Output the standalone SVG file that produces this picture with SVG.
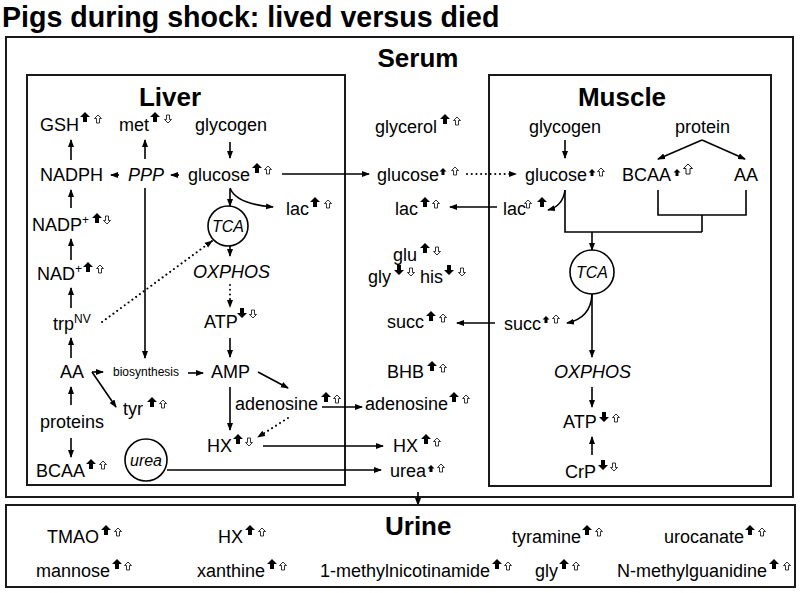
<svg xmlns="http://www.w3.org/2000/svg" xmlns:xlink="http://www.w3.org/1999/xlink" width="800" height="593" viewBox="0 0 800 593">
<style>
text{font-family:"Liberation Sans",Arial,sans-serif;fill:#000}
.t{font-size:18px}
.i{font-size:18px;font-style:italic}
.h{font-size:26px;font-weight:bold}
.s{font-size:12px}
.box{fill:none;stroke:#1a1a1a;stroke-width:2}
.c{fill:none;stroke:#000;stroke-width:1.6;marker-end:url(#ah)}
.n{fill:none;stroke:#000;stroke-width:1.6}
.d{fill:none;stroke:#000;stroke-width:2;stroke-dasharray:0.1 4.6;stroke-linecap:round;marker-end:url(#ah)}
.circ{fill:#fff;stroke:#000;stroke-width:1.6}
</style>
<defs>
<marker id="ah" markerUnits="userSpaceOnUse" markerWidth="8" markerHeight="7" refX="7" refY="3.5" orient="auto"><path d="M0,0.5 L8,3.5 L0,6.5 z" fill="#000"/></marker>
<path id="fu" d="M0,-10 L5,-5 L2,-5 L2,0 L-2,0 L-2,-5 L-5,-5 Z" fill="#000"/>
<path id="fus" d="M0,-7 L3.5,-3.5 L1.5,-3.5 L1.5,0 L-1.5,0 L-1.5,-3.5 L-3.5,-3.5 Z" fill="#000"/>
<path id="fd" d="M0,0 L5,-5 L2,-5 L2,-10 L-2,-10 L-2,-5 L-5,-5 Z" fill="#000"/>
<path id="ou" d="M0,-8 L3.5,-4.5 L1.5,-4.5 L1.5,0 L-1.5,0 L-1.5,-4.5 L-3.5,-4.5 Z" fill="#fff" stroke="#000" stroke-width="0.8"/>
<path id="oul" d="M0,-10 L4.5,-5.5 L2,-5.5 L2,0 L-2,0 L-2,-5.5 L-4.5,-5.5 Z" fill="#fff" stroke="#000" stroke-width="0.9"/>
<path id="od" d="M0,0 L3.5,-3.5 L1.5,-3.5 L1.5,-8 L-1.5,-8 L-1.5,-3.5 L-3.5,-3.5 Z" fill="#fff" stroke="#000" stroke-width="0.8"/>
</defs>
<rect width="800" height="593" fill="#fff"/>
<text x="2" y="27" style="font-size:28.6px;font-weight:bold">Pigs during shock: lived versus died</text>

<g id="serum">
<rect class="box" x="6" y="37" width="787" height="460"/>
<text class="h" x="418" y="67" text-anchor="middle">Serum</text>
<text class="t" x="375" y="133">glycerol</text><use href="#fu" x="445" y="124"/><use href="#ou" x="457" y="125"/>
<text class="t" x="377" y="181">glucose</text><use href="#fus" x="443" y="175"/><use href="#ou" x="455" y="175"/>
<text class="t" x="395" y="215">lac</text><use href="#fu" x="425" y="207"/><use href="#ou" x="436" y="208"/>
<text class="t" x="393" y="261">glu</text><use href="#fu" x="425" y="253"/><use href="#od" x="437" y="255"/>
<text class="t" x="368" y="283">gly</text><use href="#fd" x="399" y="275"/><use href="#od" x="411" y="276"/>
<text class="t" x="420" y="283">his</text><use href="#fd" x="449" y="275"/><use href="#od" x="462" y="276"/>
<text class="t" x="387" y="328">succ</text><use href="#fu" x="431" y="321"/><use href="#ou" x="443" y="322"/>
<text class="t" x="387" y="378">BHB</text><use href="#fu" x="432" y="371"/><use href="#ou" x="443" y="372"/>
<text class="t" x="365" y="410">adenosine</text><use href="#fu" x="454" y="402"/><use href="#ou" x="466" y="403"/>
<text class="t" x="393" y="452">HX</text><use href="#fu" x="426" y="444"/><use href="#ou" x="437" y="446"/>
<text class="t" x="390" y="477">urea</text><use href="#fus" x="431" y="472"/><use href="#ou" x="441" y="472"/>
</g>

<g id="liver">
<rect class="box" x="27" y="75" width="318" height="410"/>
<text class="h" x="170" y="106" text-anchor="middle">Liver</text>
<text class="t" x="40" y="131">GSH</text><use href="#fu" x="85" y="122"/><use href="#ou" x="98" y="123"/>
<text class="t" x="119" y="131">met</text><use href="#fu" x="155" y="122"/><use href="#od" x="168" y="123"/>
<text class="t" x="195" y="131">glycogen</text>
<text class="t" x="40" y="181">NADPH</text>
<text class="i" x="128" y="181">PPP</text>
<text class="t" x="188" y="181">glucose</text><use href="#fu" x="257" y="173"/><use href="#ou" x="268" y="174"/>
<text class="t" x="286" y="215">lac</text><use href="#fu" x="315" y="207"/><use href="#ou" x="328" y="208"/>
<text class="t" x="32" y="231">NADP<tspan style="font-size:12px" dy="-7">+</tspan></text><use href="#fu" x="97" y="223"/><use href="#od" x="107" y="224"/>
<text class="t" x="37" y="280">NAD<tspan style="font-size:12px" dy="-7">+</tspan></text><use href="#fu" x="88" y="272"/><use href="#ou" x="100" y="273"/>
<text class="t" x="53" y="330">trp<tspan style="font-size:12px" dy="-7">NV</tspan></text>
<text class="i" x="193" y="278">OXPHOS</text>
<text class="t" x="204" y="328">ATP</text><use href="#fd" x="242" y="318"/><use href="#od" x="253" y="318"/>
<text class="t" x="60" y="378">AA</text>
<text class="s" x="113" y="376">biosynthesis</text>
<text class="t" x="211" y="378">AMP</text>
<text class="t" x="123" y="415">tyr</text><use href="#fu" x="152" y="407"/><use href="#ou" x="163" y="408"/>
<text class="t" x="40" y="428">proteins</text>
<text class="t" x="235" y="410">adenosine</text><use href="#fu" x="326" y="402"/><use href="#ou" x="337" y="403"/>
<text class="t" x="207" y="452">HX</text><use href="#fu" x="238" y="444"/><use href="#od" x="249" y="446"/>
<text class="t" x="36" y="477">BCAA</text><use href="#fu" x="91" y="469"/><use href="#ou" x="103" y="469"/>
</g>

<g id="muscle">
<rect class="box" x="489" y="75" width="282" height="411"/>
<text class="h" x="622" y="106" text-anchor="middle">Muscle</text>
<text class="t" x="529" y="133">glycogen</text>
<text class="t" x="675" y="133">protein</text>
<text class="t" x="525" y="181">glucose</text><use href="#fus" x="592" y="176"/><use href="#ou" x="601" y="176"/>
<text class="t" x="622" y="181">BCAA</text><use href="#fus" x="677" y="176"/><use href="#oul" x="688" y="174"/>
<text class="t" x="734" y="181">AA</text>
<text class="t" x="503" y="215">lac</text><use href="#ou" x="528" y="208"/><use href="#fu" x="542" y="207"/>
<text class="t" x="504" y="330">succ</text><use href="#fus" x="546" y="323"/><use href="#ou" x="556" y="323"/>
<text class="i" x="554" y="378">OXPHOS</text>
<text class="t" x="563" y="428">ATP</text><use href="#fd" x="604" y="422"/><use href="#ou" x="616" y="422"/>
<text class="t" x="565" y="478">CrP</text><use href="#fd" x="603" y="470"/><use href="#od" x="614" y="471"/>
</g>

<g id="connectors">
<line class="c" x1="71" y1="160" x2="71" y2="140"/>
<line class="c" x1="145" y1="159" x2="145" y2="140"/>
<line class="c" x1="230" y1="142" x2="230" y2="158"/>
<line class="c" x1="179" y1="175" x2="171" y2="175"/>
<line class="c" x1="119" y1="175" x2="111" y2="175"/>
<line class="c" x1="71" y1="208" x2="71" y2="190"/>
<line class="c" x1="71" y1="260" x2="71" y2="239"/>
<line class="c" x1="71" y1="308" x2="71" y2="288"/>
<line class="c" x1="71" y1="358" x2="71" y2="338"/>
<line class="c" x1="71" y1="405" x2="71" y2="387"/>
<line class="c" x1="71" y1="438" x2="71" y2="457"/>
<line class="c" x1="145" y1="188" x2="145" y2="358"/>
<line class="c" x1="92" y1="372" x2="103" y2="372"/>
<line class="c" x1="92" y1="372" x2="116" y2="407"/>
<line class="c" x1="188" y1="373" x2="203" y2="373"/>
<line class="c" x1="230" y1="189" x2="230" y2="206"/>
<path class="c" d="M230,188 Q236,204 273,207"/>
<line class="c" x1="230" y1="246" x2="230" y2="256"/>
<line class="d" x1="230" y1="285" x2="230" y2="307"/>
<line class="c" x1="230" y1="338" x2="230" y2="357"/>
<line class="c" x1="230" y1="387" x2="230" y2="430"/>
<line class="c" x1="258" y1="372" x2="288" y2="388"/>
<line class="d" x1="288" y1="418" x2="258" y2="437"/>
<line class="d" x1="102" y1="322" x2="212" y2="241"/>
<line class="c" x1="282" y1="174" x2="369" y2="174"/>
<line class="c" x1="322" y1="407" x2="362" y2="407"/>
<line class="c" x1="263" y1="446" x2="383" y2="446"/>
<line class="c" x1="167" y1="470" x2="381" y2="470"/>
<line class="d" x1="467" y1="174" x2="516" y2="174"/>
<line class="c" x1="497" y1="207" x2="450" y2="207"/>
<line class="c" x1="495" y1="323" x2="457" y2="323"/>
<line class="c" x1="565" y1="140" x2="565" y2="158"/>
<line class="c" x1="702" y1="140" x2="658" y2="159"/>
<line class="c" x1="702" y1="140" x2="745" y2="159"/>
<path class="c" d="M565,190 Q563,206 548,210"/>
<path class="n" d="M565,190 V232 H702 M658,190 V215 H746 V190 M702,215 V232"/>
<line class="c" x1="592" y1="232" x2="592" y2="250"/>
<path class="c" d="M592,294 Q591,318 567,323"/>
<line class="c" x1="592" y1="294" x2="592" y2="357"/>
<line class="c" x1="592" y1="387" x2="592" y2="407"/>
<line class="c" x1="592" y1="455" x2="592" y2="437"/>
<line class="c" x1="418" y1="492" x2="418" y2="505"/>
</g>

<g id="liver-tca"><circle class="circ" cx="228" cy="226" r="20"/><text x="228" y="232" text-anchor="middle" style="font-size:16px;font-style:italic">TCA</text></g>
<g id="liver-urea"><circle class="circ" cx="146" cy="460" r="21"/><text x="146" y="466" text-anchor="middle" style="font-size:16px;font-style:italic">urea</text></g>
<g id="muscle-tca"><circle class="circ" cx="592" cy="272" r="22"/><text x="592" y="278" text-anchor="middle" style="font-size:16px;font-style:italic">TCA</text></g>

<g id="urine">
<rect class="box" x="6" y="505" width="789" height="82"/>
<text class="h" x="385" y="535">Urine</text>
<text class="t" x="47" y="543">TMAO</text><use href="#fu" x="106" y="535"/><use href="#ou" x="118" y="536"/>
<text class="t" x="218" y="543">HX</text><use href="#fu" x="250" y="535"/><use href="#ou" x="262" y="536"/>
<text class="t" x="512" y="543">tyramine</text><use href="#fu" x="587" y="535"/><use href="#ou" x="599" y="536"/>
<text class="t" x="664" y="543">urocanate</text><use href="#fu" x="750" y="535"/><use href="#ou" x="762" y="536"/>
<text class="t" x="36" y="577">mannose</text><use href="#fu" x="117" y="569"/><use href="#ou" x="128" y="570"/>
<text class="t" x="197" y="577">xanthine</text><use href="#fu" x="272" y="569"/><use href="#ou" x="283" y="570"/>
<text class="t" x="320" y="577">1-methylnicotinamide</text><use href="#fu" x="497" y="569"/><use href="#ou" x="508" y="570"/>
<text class="t" x="535" y="577">gly</text><use href="#fu" x="564" y="569"/><use href="#ou" x="576" y="570"/>
<text class="t" x="617" y="577">N-methylguanidine</text><use href="#fu" x="774" y="569"/><use href="#ou" x="787" y="570"/>
</g>
</svg>
